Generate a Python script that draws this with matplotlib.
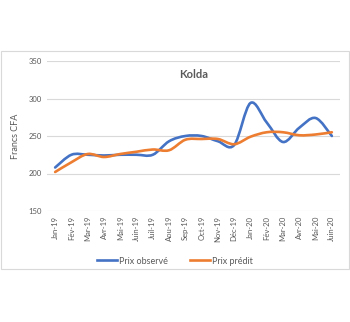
import matplotlib
matplotlib.use('Agg')
import matplotlib.pyplot as plt
from matplotlib.path import Path
from matplotlib.patches import PathPatch, Rectangle
from matplotlib.lines import Line2D
import numpy as np

plt.rcParams['font.family'] = ['Lato', 'DejaVu Sans']

# données
mois = ['Jan-19', 'Fév-19', 'Mar-19', 'Avr-19', 'Mai-19', 'Juin-19', 'Juil-19', 'Aou-19',
        'Sep-19', 'Oct-19', 'Nov-19', 'Déc-19', 'Jan-20', 'Fév-20', 'Mar-20', 'Avr-20',
        'Mai-20', 'Juin-20']
prix_observe = [208, 225, 225, 224, 225, 225, 225, 243, 250, 250, 243, 238, 294, 268, 242, 261, 274, 250]
prix_predit = [202, 215, 226, 222, 226, 229, 232, 231, 245, 246, 246, 239, 249, 255, 255, 251, 252, 255]


def smooth_path(y):
    # courbe lissée type Excel (Catmull-Rom -> Bézier)
    x = np.arange(len(y), dtype=float)
    pts = np.column_stack([x, np.asarray(y, dtype=float)])
    verts = [pts[0]]
    codes = [Path.MOVETO]
    n = len(pts)
    for i in range(n - 1):
        p0 = pts[i - 1] if i > 0 else pts[i]
        p1 = pts[i]
        p2 = pts[i + 1]
        p3 = pts[i + 2] if i + 2 < n else pts[i + 1]
        c1 = p1 + (p2 - p0) / 6.0
        c2 = p2 - (p3 - p1) / 6.0
        verts += [c1, c2, p2]
        codes += [Path.CURVE4] * 3
    return Path(verts, codes)


fig = plt.figure(figsize=(3.5, 3.22), dpi=100)
fig.patch.set_facecolor('white')
fig.patches.append(Rectangle((0.003, 1 - 269 / 322), 0.994, (269 - 51) / 322,
                             transform=fig.transFigure, fill=False,
                             edgecolor='#d9d9d9', linewidth=0.8))

ax = fig.add_axes([47 / 350, 1 - 211 / 322, 293 / 350, 150 / 322])
ax.set_xlim(-0.5, len(mois) - 0.5)
ax.set_ylim(150, 350)
ax.set_yticks([150, 200, 250, 300, 350])
ax.yaxis.grid(True, color='#d9d9d9', linewidth=0.8)
ax.set_axisbelow(True)
for s in ax.spines.values():
    s.set_visible(False)
ax.tick_params(length=0, labelsize=5.5, colors='#595959')
ax.set_xticks(range(len(mois)))
ax.set_xticklabels(mois, rotation=90)

bleu = '#4472C4'
orange = '#ED7D31'
ax.add_patch(PathPatch(smooth_path(prix_observe), fill=False, edgecolor=bleu, linewidth=1.9,
                       capstyle='round', joinstyle='round'))
ax.add_patch(PathPatch(smooth_path(prix_predit), fill=False, edgecolor=orange, linewidth=1.9,
                       capstyle='round', joinstyle='round'))

ax.set_ylabel('Francs CFA', fontsize=6.5, color='#595959', labelpad=6)
ax.set_title('Kolda', fontsize=8, fontweight='bold', color='#595959', y=0.885, pad=0)

handles = [Line2D([], [], color=bleu, linewidth=1.9), Line2D([], [], color=orange, linewidth=1.9)]
fig.legend(handles, ['Prix observé', 'Prix prédit'], loc='center', ncol=2,
           bbox_to_anchor=(0.5, 1 - 261 / 322), frameon=False, fontsize=6.5,
           labelcolor='#595959', handlelength=2.2, handletextpad=0.2, columnspacing=2.5)

plt.savefig('out.png', dpi=100, facecolor='white')
plt.close()
